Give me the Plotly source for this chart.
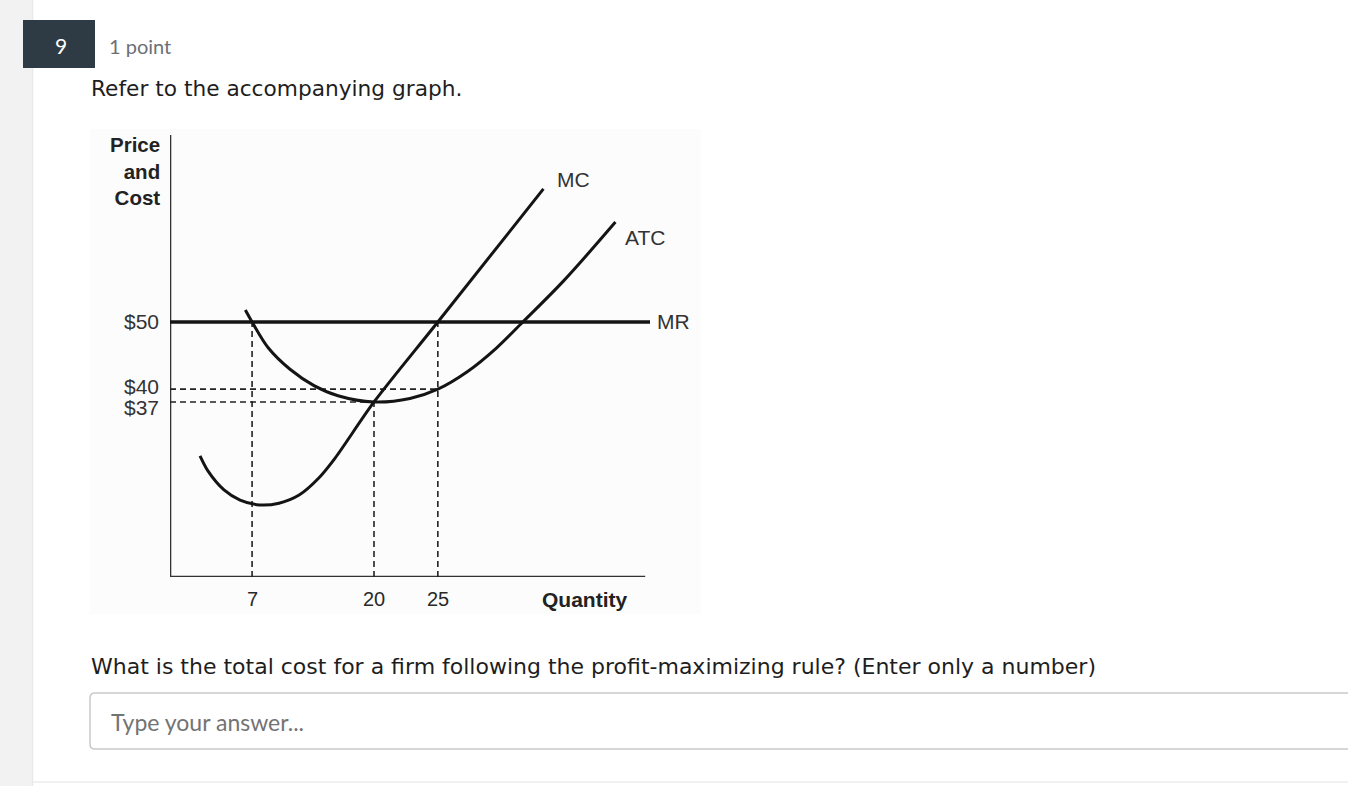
import plotly.graph_objects as go

W, H = 1348, 786

# ---------------- data (schematic diagram units, not to scale, as in the source figure) ----------------
q_labels = ["7", "20", "25"]
q_pos = [17.1, 42.5, 55.8]           # positions of the quantity marks on the diagram axis
p_labels = ["$50", "$40", "$37"]
p_pos = [57.7, 42.5, 39.6]           # positions of the price marks on the diagram axis

mr_x = [0, 100]
mr_y = [57.7, 57.7]

mc_x = [6.25, 7.9, 11.25, 14.6, 18.65, 22.7, 26.9, 31.0, 34.4, 42.5, 55.8, 77.8]
mc_y = [27.4, 24.0, 19.7, 17.4, 16.3, 16.7, 18.55, 22.4, 26.9, 39.6, 57.7, 87.8]

atc_x = [15.7, 17.1, 20.5, 25.0, 30.0, 35.0, 42.5, 50.0, 55.8, 62.0, 68.0, 73.5, 82.0, 92.8]
atc_y = [60.4, 57.7, 51.8, 47.0, 43.3, 41.0, 39.6, 40.4, 42.5, 46.5, 51.8, 57.7, 67.0, 80.3]

curve_labels = ["MC", "ATC", "MR"]

question_no = "9"
points_text = "1 point"
prompt_text = "Refer to the accompanying graph."
question_text = "What is the total cost for a firm following the profit-maximizing rule? (Enter only a number)"
placeholder_text = "Type your answer..."

# ---------------- helpers for page layout ----------------
def fx(x):
    return x / W

def fy(y):
    return 1 - y / H

fig = go.Figure()

LINE = "#141414"
DASH = "6px,4px"

# axes
fig.add_trace(go.Scatter(x=[0, 0], y=[100, 0], mode="lines", line=dict(color="#333333", width=2.6),
                         hoverinfo="skip", showlegend=False))
fig.add_trace(go.Scatter(x=[0, 99], y=[0, 0], mode="lines", line=dict(color="#333333", width=2.6),
                         hoverinfo="skip", showlegend=False))

# dashed guides
guides = [
    ([q_pos[0], q_pos[0]], [0, p_pos[0]]),
    ([q_pos[1], q_pos[1]], [0, p_pos[2]]),
    ([q_pos[2], q_pos[2]], [0, p_pos[0]]),
    ([0, q_pos[2]], [p_pos[1], p_pos[1]]),
    ([0, q_pos[1]], [p_pos[2], p_pos[2]]),
]
for gx, gy in guides:
    fig.add_trace(go.Scatter(x=gx, y=gy, mode="lines", line=dict(color="#222222", width=1.6, dash=DASH),
                             hoverinfo="skip", showlegend=False))

# MR, MC, ATC
fig.add_trace(go.Scatter(x=mr_x, y=mr_y, mode="lines", line=dict(color=LINE, width=3.4),
                         name="MR", showlegend=False))
fig.add_trace(go.Scatter(x=mc_x, y=mc_y, mode="lines", line=dict(color=LINE, width=3, shape="spline", smoothing=0.8),
                         name="MC", showlegend=False))
fig.add_trace(go.Scatter(x=atc_x, y=atc_y, mode="lines", line=dict(color=LINE, width=3, shape="spline", smoothing=1.0),
                         name="ATC", showlegend=False))

chart_font = "Liberation Sans, Arial, sans-serif"
TXT = "#2a2a2a"
ann = []

# tick labels
for q, lab in zip(q_pos, q_labels):
    ann.append(dict(x=q, y=0, xref="x", yref="y", text=lab, showarrow=False, yshift=-22,
                    xanchor="center", yanchor="middle", font=dict(family=chart_font, size=20, color=TXT)))
p_shift = [0, 3, -6]
for p, lab, s in zip(p_pos, p_labels, p_shift):
    ann.append(dict(x=0, y=p, xref="x", yref="y", text=lab, showarrow=False, xshift=-9, yshift=s,
                    xanchor="right", yanchor="middle", font=dict(family=chart_font, size=21, color="#333333")))

# axis titles
ann.append(dict(x=0, y=100, xref="x", yref="y", text="<b>Price<br>and<br>Cost</b>", showarrow=False,
                xshift=-8, yshift=4, xanchor="right", yanchor="top", align="right",
                font=dict(family=chart_font, size=20.5, color="#222222")))
ann.append(dict(x=86.3, y=0, xref="x", yref="y", text="<b>Quantity</b>", showarrow=False, yshift=-22,
                xanchor="center", yanchor="middle", font=dict(family=chart_font, size=21, color="#222222")))

# curve labels
label_pos = [(80.2, 90.0), (94.4, 76.7), (101.0, 57.7)]
for (lx, ly), lab in zip(label_pos, curve_labels):
    ann.append(dict(x=lx, y=ly, xref="x", yref="y", text=lab, showarrow=False,
                    xanchor="left", yanchor="middle", font=dict(family=chart_font, size=21, color="#333333")))

# page texts
ann.append(dict(x=fx(61), y=fy(45), xref="paper", yref="paper", text=question_no, showarrow=False,
                xanchor="center", yanchor="middle", font=dict(family="Lato, sans-serif", size=21, color="#ffffff")))
ann.append(dict(x=fx(107), y=fy(46), xref="paper", yref="paper", text=points_text, showarrow=False,
                xanchor="left", yanchor="middle", font=dict(family="Lato, sans-serif", size=20, color="#6b7076")))
ann.append(dict(x=fx(89), y=fy(88), xref="paper", yref="paper", text=prompt_text, showarrow=False,
                xanchor="left", yanchor="middle", font=dict(family="DejaVu Sans, sans-serif", size=21.7, color="#1e1e1e")))
ann.append(dict(x=fx(89), y=fy(666), xref="paper", yref="paper", text=question_text, showarrow=False,
                xanchor="left", yanchor="middle", font=dict(family="DejaVu Sans, sans-serif", size=22, color="#1e1e1e")))
ann.append(dict(x=fx(109), y=fy(722), xref="paper", yref="paper", text=placeholder_text, showarrow=False,
                xanchor="left", yanchor="middle", font=dict(family="Lato, sans-serif", size=23, color="#737373")))

# page shapes
rx, ry = 5 / W, 5 / H
bx0, bx1, by0, by1 = fx(90), fx(1362), fy(749), fy(693)
box_path = (f"M {bx0+rx},{by1} L {bx1},{by1} L {bx1},{by0} L {bx0+rx},{by0} "
            f"Q {bx0},{by0} {bx0},{by0+ry} L {bx0},{by1-ry} Q {bx0},{by1} {bx0+rx},{by1} Z")

shapes = [
    dict(type="rect", xref="paper", yref="paper", x0=0, x1=fx(33), y0=0, y1=1,
         fillcolor="#f2f2f2", line=dict(width=0), layer="below"),
    dict(type="line", xref="paper", yref="paper", x0=fx(32.5), x1=fx(32.5), y0=0, y1=1,
         line=dict(color="#e9e9e9", width=1.5), layer="below"),
    dict(type="line", xref="paper", yref="paper", x0=fx(33), x1=1, y0=fy(782), y1=fy(782),
         line=dict(color="#ececec", width=1.5), layer="below"),
    dict(type="rect", xref="paper", yref="paper", x0=fx(23), x1=fx(95), y0=fy(68), y1=fy(20),
         fillcolor="#2e3b45", line=dict(width=0), layer="below"),
    dict(type="rect", xref="paper", yref="paper", x0=fx(90), x1=fx(701), y0=fy(614), y1=fy(129),
         fillcolor="#fcfcfc", line=dict(width=0), layer="below"),
    dict(type="path", xref="paper", yref="paper", path=box_path,
         fillcolor="#ffffff", line=dict(color="#c9c9c9", width=1.5), layer="below"),
]

x_max = (700 - 170) / 4.8
fig.update_layout(
    width=W, height=H,
    margin=dict(l=0, r=0, t=0, b=0),
    paper_bgcolor="#ffffff", plot_bgcolor="rgba(0,0,0,0)",
    xaxis=dict(domain=[fx(170), fx(700)], range=[0, x_max], visible=False, fixedrange=True),
    yaxis=dict(domain=[fy(577), fy(135)], range=[0, 100], visible=False, fixedrange=True),
    annotations=ann, shapes=shapes, showlegend=False,
)

fig.write_html("out.html", config={"displayModeBar": False})
